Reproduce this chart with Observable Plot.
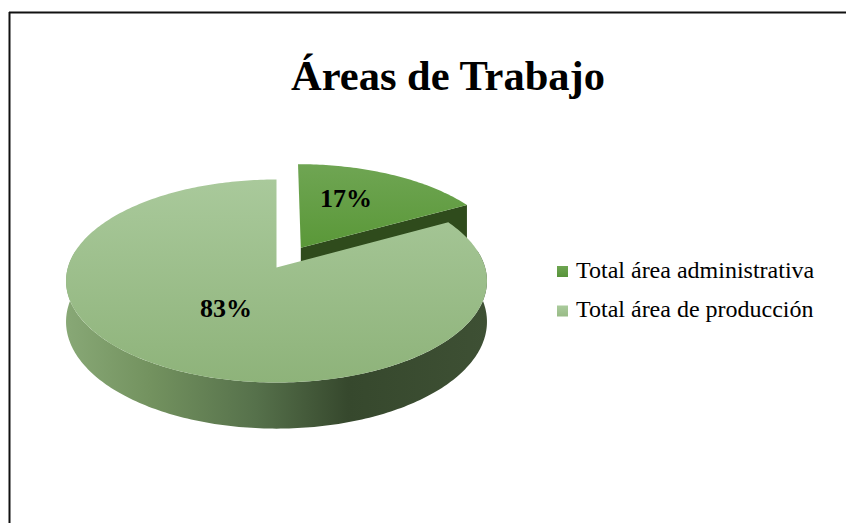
<!DOCTYPE html>
<html>
<head>
<meta charset="utf-8">
<script src="https://cdn.jsdelivr.net/npm/d3@7"></script>
<script src="https://cdn.jsdelivr.net/npm/@observablehq/plot@0.6"></script>
<style>
  html, body { margin: 0; padding: 0; background: #fff; }
  #chart svg { display: block; }
</style>
</head>
<body>
<div id="chart"></div>
<script>
// ---- data ----
const title = "Áreas de Trabajo";
const categories = ["Total área administrativa", "Total área de producción"];
const values = [17, 83];
const labels = ["17%", "83%"];
const explode = [0.235, 0];

// ---- styling / layout ----
const W = 846, H = 523;
const topColors = [["#6fa553", "#5a9838"], ["#a9c99b", "#8eb37a"]];
const legendColors = ["url(#legA)", "url(#legB)"];
const endFaceColor = "#2f4b1c";
const serif = "'Liberation Serif', 'Times New Roman', Times, serif";

// projection of a 3D pie (unit-radius plane coords u,v ; z=0 top, z=1 bottom)
const cx = 276, cy = 267, rx = 208.6, ry = 99.7, persp = 0.133, depth = 40;
function proj(u, v, z) {
  const k = 1 / (1 - persp * v);
  return {x: cx + rx * u * k, y: cy + (ry * v + depth * z) * k};
}

const total = d3.sum(values);
let cum = 0;
const slices = values.map((val, i) => {
  const t0 = -90 + 360 * cum / total;
  cum += val;
  const t1 = -90 + 360 * cum / total;
  const tm = (t0 + t1) / 2 * Math.PI / 180;
  const ou = explode[i] * Math.cos(tm), ov = explode[i] * Math.sin(tm);
  return {i, t0, t1, tm, ou, ov};
});

function arcPts(s, a0, a1, z, id) {
  const pts = [];
  const n = Math.max(2, Math.ceil(Math.abs(a1 - a0)));
  for (let j = 0; j <= n; j++) {
    const t = (a0 + (a1 - a0) * j / n) * Math.PI / 180;
    const p = proj(s.ou + Math.cos(t), s.ov + Math.sin(t), z);
    pts.push({...p, id});
  }
  return pts;
}

const marks = [];
// frame lines
marks.push(Plot.ruleY([12], {x1: 9, x2: W, stroke: "#111", strokeWidth: 2}));
marks.push(Plot.ruleX([9], {y1: 12, y2: H, stroke: "#111", strokeWidth: 2}));

slices.forEach(s => {
  // outer wall (front-facing part)
  const w0 = Math.max(s.t0, -10), w1 = Math.min(s.t1, 190);
  if (w1 > w0) {
    const wall = [...arcPts(s, w0, w1, 0, "w"), ...arcPts(s, w1, w0, 1, "w")];
    marks.push(Plot.line(wall, {x: "x", y: "y", fill: "url(#wall)", stroke: "none"}));
  }
  // end radial face (visible if facing viewer)
  const te = s.t1 * Math.PI / 180;
  if (Math.cos(te) > 0.05) {
    const a = proj(s.ou, s.ov, 0), b = proj(s.ou + Math.cos(te), s.ov + Math.sin(te), 0);
    const c = proj(s.ou + Math.cos(te), s.ov + Math.sin(te), 1), d = proj(s.ou, s.ov, 1);
    marks.push(Plot.line([a, b, c, d], {x: "x", y: "y", fill: endFaceColor, stroke: "none"}));
  }
  // top face
  const v = proj(s.ou, s.ov, 0);
  const topPts = [v, ...arcPts(s, s.t0, s.t1, 0, "t"), v];
  marks.push(Plot.line(topPts, {x: "x", y: "y", fill: `url(#top${s.i})`, stroke: "none"}));
});

// percentage labels
const labelPts = slices.map(s => {
  const r = 0.45;
  const p = proj(s.ou + r * Math.cos(s.tm), s.ov + r * Math.sin(s.tm), 0);
  return {...p, text: labels[s.i], dx: s.i === 0 ? 2 : 0, dy: s.i === 0 ? -14 : 0};
});
labelPts.forEach(l => marks.push(Plot.text([l], {
  x: "x", y: "y", text: "text", dx: l.dx, dy: l.dy,
  fontFamily: serif, fontWeight: "bold", fontSize: 26, fill: "#000",
  textAnchor: "middle", lineAnchor: "middle"
})));

// title
marks.push(Plot.text([title], {
  x: () => 447.5, y: () => 89, text: d => d,
  fontFamily: serif, fontWeight: "bold", fontSize: 42.5, fill: "#000",
  textAnchor: "middle", lineAnchor: "bottom"
}));

// legend
const legX = 557, legY0 = 277, legStep = 39.5, sq = 11;
const legend = categories.map((c, i) => ({c, i, y: legY0 + i * legStep}));
legend.forEach(l => {
  marks.push(Plot.rect([l], {x1: () => legX, x2: () => legX + sq, y1: d => d.y - sq, y2: d => d.y,
    fill: legendColors[l.i]}));
});
marks.push(Plot.text(legend, {
  x: () => legX + 18.5, y: "y", text: "c",
  fontFamily: serif, fontSize: 24, fill: "#000",
  textAnchor: "start", lineAnchor: "bottom"
}));

const svg = Plot.plot({
  width: W, height: H,
  margin: 0,
  x: {type: "linear", domain: [0, W], range: [0, W], axis: null},
  y: {type: "linear", domain: [0, H], range: [0, H], axis: null},
  style: {background: "#fff", overflow: "visible"},
  marks
});

// gradients
const ns = "http://www.w3.org/2000/svg";
const defs = document.createElementNS(ns, "defs");
function grad(id, x1, y1, x2, y2, stops) {
  const g = document.createElementNS(ns, "linearGradient");
  g.setAttribute("id", id);
  g.setAttribute("gradientUnits", "userSpaceOnUse");
  g.setAttribute("x1", x1); g.setAttribute("y1", y1);
  g.setAttribute("x2", x2); g.setAttribute("y2", y2);
  stops.forEach(([o, c]) => {
    const st = document.createElementNS(ns, "stop");
    st.setAttribute("offset", o); st.setAttribute("stop-color", c);
    g.appendChild(st);
  });
  defs.appendChild(g);
}
const s0 = slices[0];
const s0top = proj(s0.ou, s0.ov - 1, 0).y, s0bot = proj(s0.ou, s0.ov, 0).y;
grad("top0", 0, s0top, 0, s0bot, [[0, topColors[0][0]], [1, topColors[0][1]]]);
grad("top1", 0, proj(0, -1, 0).y, 0, proj(0, 1, 0).y, [[0, topColors[1][0]], [1, topColors[1][1]]]);
grad("wall", cx - rx * 1.01, 0, cx + rx * 1.01, 0, [
  [0, "#88a876"], [0.2, "#73925f"], [0.45, "#56714b"], [0.67, "#36482d"], [1, "#3e5034"]
]);
grad("legA", 0, 266, 0, 277, [[0, "#6ea551"], [1, "#57933a"]]);
grad("legB", 0, 305.5, 0, 316.5, [[0, "#aacb9c"], [1, "#98bb86"]]);
svg.insertBefore(defs, svg.firstChild);

document.getElementById("chart").appendChild(svg);
</script>
</body>
</html>
